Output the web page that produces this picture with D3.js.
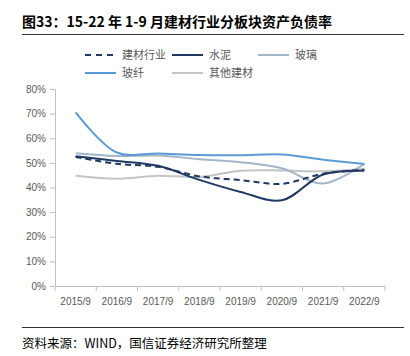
<!DOCTYPE html>
<html><head><meta charset="utf-8">
<script src="https://cdn.jsdelivr.net/npm/d3@7"></script>
<style>body{margin:0;background:#fff;} svg{display:block;}</style>
</head><body>
<svg id="c" width="410" height="356"></svg>
<script>
const categories = ["2015/9","2016/9","2017/9","2018/9","2019/9","2020/9","2021/9","2022/9"];
const industry  = [52.4, 49.6, 48.4, 44.5, 43.0, 41.5, 45.6, 47.2];
const cement    = [52.7, 50.8, 48.8, 43.1, 38.2, 34.8, 45.3, 46.8];
const glass     = [53.9, 52.8, 53.0, 51.5, 50.3, 47.8, 41.6, 49.6];
const fiber     = [70.5, 54.2, 53.8, 53.2, 53.1, 53.4, 51.3, 49.5];
const other     = [44.8, 43.6, 44.8, 44.3, 46.8, 46.9, 46.6, 47.6];
const yTicks = [0,10,20,30,40,50,60,70,80];
const seriesNames = ["建材行业","水泥","玻璃","玻纤","其他建材"];

const series = [
  {name:seriesNames[0], values:industry, color:"#1f3864", dash:"6,4"},
  {name:seriesNames[1], values:cement, color:"#1f3864", dash:null},
  {name:seriesNames[2], values:glass, color:"#a3b5c9", dash:null},
  {name:seriesNames[3], values:fiber, color:"#5b9bd5", dash:null},
  {name:seriesNames[4], values:other, color:"#c4c4c4", dash:null}
];

const svg = d3.select("#c");
const font = "'Noto Sans CJK SC','Noto Sans',sans-serif";

// title
svg.append("text").attr("x",22).attr("y",27).attr("font-family",font)
  .attr("font-size",14).attr("font-weight","bold").attr("fill","#000")
  .text("图33：15-22 年 1-9 月建材行业分板块资产负债率");
svg.append("line").attr("x1",22).attr("x2",404).attr("y1",34.5).attr("y2",34.5)
  .attr("stroke","#333").attr("stroke-width",1);

const x = d3.scaleBand().domain(categories).range([55,385]);
const y = d3.scaleLinear().domain([0,80]).range([286,89]);

// axes
const yAxis = d3.axisLeft(y).tickValues(yTicks).tickFormat(d=>d+"%").tickSize(5).tickPadding(4);
const gy = svg.append("g").attr("transform","translate(55,0)").call(yAxis);
gy.select(".domain").attr("stroke","#bfbfbf");
gy.selectAll(".tick line").attr("stroke","#bfbfbf");
gy.selectAll("text").attr("font-family","'Liberation Sans',Arial,sans-serif").attr("font-size",10).attr("fill","#595959");

const xAxis = d3.axisBottom(x).tickSize(0).tickPadding(12);
const gx = svg.append("g").attr("transform","translate(0,286)").call(xAxis);
gx.select(".domain").attr("stroke","#bfbfbf");
gx.selectAll("text").attr("font-family","'Liberation Sans',Arial,sans-serif").attr("font-size",10).attr("fill","#595959");
// category boundary ticks
const bounds = categories.map(c=>x(c)).concat([x.range()[1]]);
gx.selectAll(".bt").data(bounds).enter().append("line")
  .attr("x1",d=>d).attr("x2",d=>d).attr("y1",0).attr("y2",5).attr("stroke","#bfbfbf");

// lines
const line = d3.line().x((d,i)=>x(categories[i])+x.bandwidth()/2).y(d=>y(d)).curve(d3.curveCatmullRom.alpha(0.5));
const order = [4,2,3,1,0];
order.forEach(k=>{
  const s = series[k];
  svg.append("path").attr("d",line(s.values)).attr("fill","none")
    .attr("stroke",s.color).attr("stroke-width",2)
    .attr("stroke-dasharray",s.dash);
});

// legend
const legendItems = [
  {s:series[0], x:85, y:55},
  {s:series[1], x:172, y:55},
  {s:series[2], x:258, y:55},
  {s:series[3], x:85, y:73},
  {s:series[4], x:172, y:73}
];
legendItems.forEach(it=>{
  svg.append("line").attr("x1",it.x).attr("x2",it.x+31).attr("y1",it.y).attr("y2",it.y)
    .attr("stroke",it.s.color).attr("stroke-width",2).attr("stroke-dasharray",it.s.dash?"6,5":null);
  svg.append("text").attr("x",it.x+37).attr("y",it.y+4).attr("font-family",font)
    .attr("font-size",11).attr("fill","#595959").text(it.s.name);
});

// footer
svg.append("line").attr("x1",22).attr("x2",404).attr("y1",327.5).attr("y2",327.5)
  .attr("stroke","#333").attr("stroke-width",1);
svg.append("text").attr("x",22).attr("y",347.5).attr("font-family",font)
  .attr("font-size",12.5).attr("fill","#000").text("资料来源：WIND，国信证券经济研究所整理");
</script>
</body></html>
